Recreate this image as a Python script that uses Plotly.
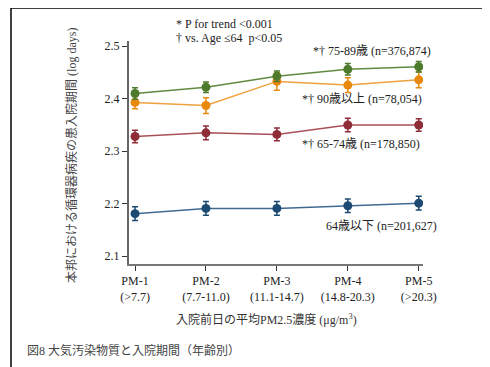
import plotly.graph_objects as go

categories = ["PM-1<br>(>7.7)", "PM-2<br>(7.7-11.0)", "PM-3<br>(11.1-14.7)", "PM-4<br>(14.8-20.3)", "PM-5<br>(>20.3)"]
y_ticks = [2.1, 2.2, 2.3, 2.4, 2.5]

age_75_89 = [2.410, 2.422, 2.443, 2.456, 2.461]
age_75_89_err = [0.011, 0.010, 0.010, 0.011, 0.010]
age_90plus = [2.393, 2.387, 2.433, 2.426, 2.436]
age_90plus_err = [0.012, 0.015, 0.017, 0.014, 0.015]
age_65_74 = [2.328, 2.335, 2.332, 2.350, 2.350]
age_65_74_err = [0.012, 0.013, 0.012, 0.013, 0.012]
age_le64 = [2.181, 2.191, 2.191, 2.196, 2.201]
age_le64_err = [0.013, 0.013, 0.013, 0.013, 0.013]

x = list(range(len(categories)))
SERIF = "Liberation Serif, Times New Roman, Noto Sans CJK JP, serif"

fig = go.Figure()
series = [
    (age_le64, age_le64_err, "#1d4a72", "#3f6a92"),
    (age_65_74, age_65_74_err, "#8e2d38", "#a85058"),
    (age_90plus, age_90plus_err, "#e8890d", "#eea13e"),
    (age_75_89, age_75_89_err, "#4d7a2c", "#5f8a40"),
]
for vals, errs, mcol, lcol in series:
    fig.add_trace(go.Scatter(
        x=x, y=vals, mode="lines+markers",
        line=dict(color=lcol, width=1.5),
        marker=dict(color=mcol, size=9),
        error_y=dict(type="data", array=errs, visible=True, color=mcol, thickness=1.5, width=3),
        showlegend=False,
    ))

ann = [
    dict(x=3.34, y=2.490, text="*† 75-89歳 (n=376,874)"),
    dict(x=3.20, y=2.399, text="*† 90歳以上 (n=78,054)"),
    dict(x=3.18, y=2.313, text="*† 65-74歳 (n=178,850)"),
    dict(x=3.48, y=2.158, text="64歳以下 (n=201,627)"),
]
for a in ann:
    fig.add_annotation(x=a["x"], y=a["y"], text=a["text"], showarrow=False,
                       xref="x", yref="y", xanchor="center", yanchor="middle",
                       font=dict(family=SERIF, size=12, color="#222"))

fig.add_annotation(x=0.153, y=1.074, xref="paper", yref="paper", xanchor="left", yanchor="middle",
                   text="* P for trend <0.001", showarrow=False,
                   font=dict(family=SERIF, size=12, color="#222"))
fig.add_annotation(x=0.153, y=1.013, xref="paper", yref="paper", xanchor="left", yanchor="middle",
                   text="† vs. Age ≤64  p<0.05", showarrow=False,
                   font=dict(family=SERIF, size=12, color="#222"))
fig.add_annotation(x=0.466, y=-0.247, xref="paper", yref="paper", xanchor="center", yanchor="middle",
                   text="入院前日の平均PM2.5濃度 (μg/m<sup>3</sup>)", showarrow=False,
                   font=dict(family=SERIF, size=12, color="#333"))
fig.add_annotation(x=-0.354, y=-0.386, xref="paper", yref="paper", xanchor="left", yanchor="middle",
                   text="図8 大気汚染物質と入院期間（年齢別）", showarrow=False,
                   font=dict(family=SERIF, size=12, color="#444"))
fig.add_annotation(x=-0.194, y=0.489, xref="paper", yref="paper", xanchor="center", yanchor="middle",
                   textangle=-90,
                   text="本邦における循環器病疾の患入院期間 (log days)", showarrow=False,
                   font=dict(family=SERIF, size=12, color="#444"))

# frame lines (top and left)
fig.add_shape(type="line", xref="paper", yref="paper", x0=-0.4014, x1=1.3, y0=1.148, y1=1.148,
              line=dict(color="black", width=1.5))
fig.add_shape(type="line", xref="paper", yref="paper", x0=-0.4014, x1=-0.4014, y0=-0.5, y1=1.148,
              line=dict(color="black", width=1.5))

fig.update_xaxes(range=[-0.085, 4.06], tickmode="array", tickvals=x, ticktext=categories,
                 showgrid=False, zeroline=False, showline=True, linecolor="#777", linewidth=2,
                 ticks="outside", ticklen=5, tickcolor="#333", tickwidth=1,
                 tickfont=dict(family=SERIF, size=12, color="#222"))
fig.update_yaxes(range=[2.085, 2.51], tickmode="array", tickvals=y_ticks,
                 ticktext=[f"{v:.1f}" for v in y_ticks],
                 showgrid=False, zeroline=False, showline=True, linecolor="#666", linewidth=2,
                 ticks="outside", ticklen=5, tickcolor="#333", tickwidth=1,
                 tickfont=dict(family=SERIF, size=12, color="#222"))

# the page body has an 8px margin, so the figure is reduced by 8px on each side
fig.update_layout(width=482, height=359, margin=dict(l=121, r=67, t=33, b=103),
                  plot_bgcolor="white", paper_bgcolor="white")

fig.write_html("out.html")
